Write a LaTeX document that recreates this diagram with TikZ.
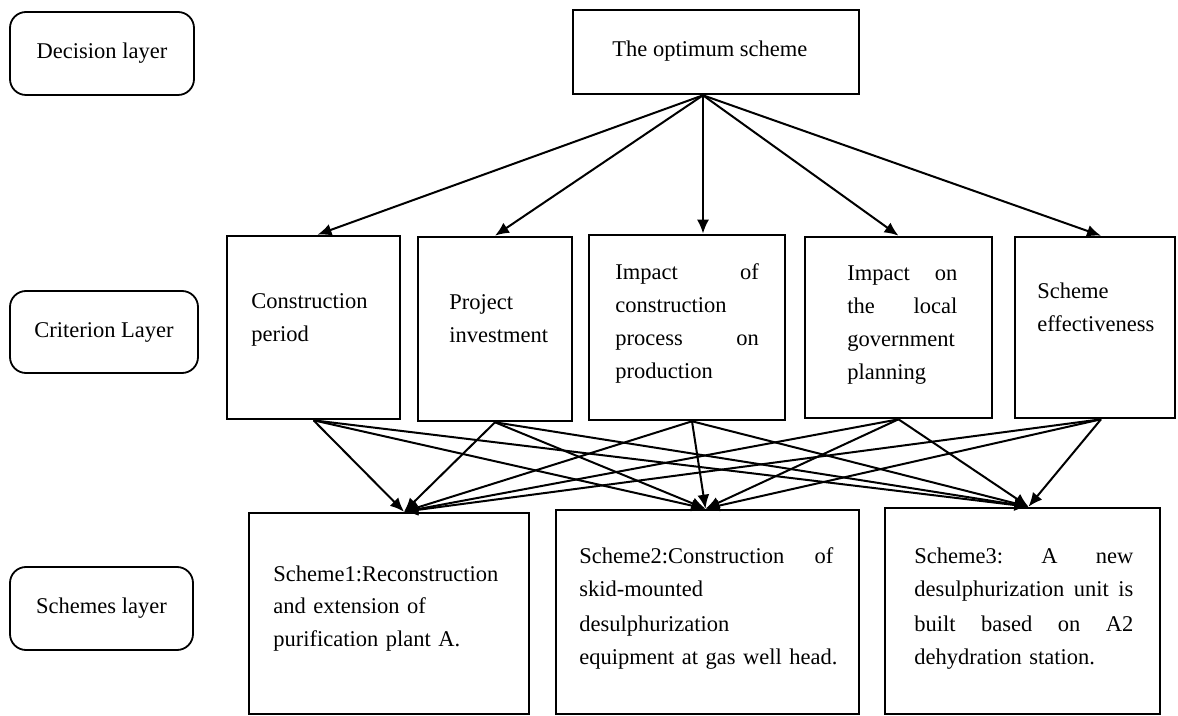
\documentclass[tikz,border=0pt]{standalone}
\usepackage{fontspec}
\setmainfont{Liberation Serif}
\usetikzlibrary{arrows.meta,calc}
\begin{document}
\begin{tikzpicture}[x=0.5pt,y=-0.5pt,
  every node/.style={font=\fontsize{11.25}{16.5}\selectfont},
  box/.style={draw,line width=1.3pt,inner sep=0pt},
  layerbox/.style={draw,line width=0.9pt,rounded corners=8pt,inner sep=0pt,align=center},
  txt/.style={anchor=base west,inner sep=0pt,align=left},
  arr/.style={line width=1pt,-{Latex[length=7pt,width=6pt]}}
]
\useasboundingbox (0,0) rectangle (1178,716);

% layer labels
\node[layerbox,minimum width=92pt,minimum height=41.5pt] (l1) at (102,53.5) {\raisebox{-1pt}{Decision layer}};
\node[layerbox,minimum width=94pt,minimum height=41pt] (l2) at (104,332) {\raisebox{-1pt}{Criterion Layer}};
\node[layerbox,minimum width=91.5pt,minimum height=41.5pt] (l3) at (101.5,608.5) {\raisebox{-1pt}{Schemes layer}};

% boxes
\node[box,minimum width=143pt,minimum height=42pt] (top) at (716,52) {};
\node[box,minimum width=86.5pt,minimum height=91.5pt] (c1) at (313.5,327.5) {};
\node[box,minimum width=77pt,minimum height=92pt] (c2) at (495,329) {};
\node[box,minimum width=98pt,minimum height=92.5pt] (c3) at (687,327.5) {};
\node[box,minimum width=93.5pt,minimum height=90.5pt] (c4) at (898.5,327.5) {};
\node[box,minimum width=80pt,minimum height=90.5pt] (c5) at (1095,327.5) {};
\node[box,minimum width=140pt,minimum height=100.5pt] (s1) at (389,613.5) {};
\node[box,minimum width=151.5pt,minimum height=102pt] (s2) at (707.5,612) {};
\node[box,minimum width=137.5pt,minimum height=103pt] (s3) at (1022.5,611) {};

% texts
\node[txt] (ttop) at (612,57) {The optimum scheme};
\node[txt,text width=70pt] (tc1) at (251,309) {Construction\\period};
\node[txt,text width=62pt] (tc2) at (449,310) {Project\\investment};
\node[txt,text width=71.75pt] (tc3) at (615,280) {Impact\hfill of\\construction\\process\hfill on\\production};
\node[txt,text width=55pt] (tc4) at (847,281) {Impact\hfill on\\the\hfill local\\government\\planning};
\node[txt,text width=64pt] (tc5) at (1037,299) {Scheme\\effectiveness};
\node[txt,text width=118pt,font=\fontsize{11.25}{16.25}\selectfont] (ts1) at (273,581) {Scheme1:Reconstruction\\and extension of\\purification plant A.};
\node[txt,text width=127pt,font=\fontsize{11.25}{17}\selectfont] (ts2) at (579,563) {Scheme2:Construction\hfill of\\skid-mounted\\desulphurization\\\mbox{equipment at gas well head.}};
\node[txt,text width=109.5pt,font=\fontsize{11.25}{17}\selectfont] (ts3) at (914,563) {Scheme3:\hfill A\hfill new\\desulphurization\hfill unit\hfill is\\built\hfill based\hfill on\hfill A2\\dehydration station.};

% connector points
\coordinate (tops) at ([xshift=-6.5pt]top.south);
\coordinate (c1t) at ([xshift=2pt]c1.north);
\coordinate (c3t) at ([xshift=8pt]c3.north);
\coordinate (c5t) at ([xshift=3pt]c5.north);
\coordinate (c3b) at ([xshift=2.5pt]c3.south);
\coordinate (c5b) at ([xshift=3pt]c5.south);
\coordinate (s1t) at ([xshift=7.5pt]s1.north);
\coordinate (s2t) at ([xshift=-1pt]s2.north);
\coordinate (s3t) at ([xshift=3pt]s3.north);

% top arrows
\draw[arr] (tops) -- (c1t);
\draw[arr] (tops) -- (c2.north);
\draw[arr] (tops) -- (c3t);
\draw[arr] (tops) -- (c4.north);
\draw[arr] (tops) -- (c5t);

% bottom arrows
\foreach \src in {c1.south,c2.south,c3b,c4.south,c5b}{
  \foreach \dst in {s1t,s2t,s3t}{
    \draw[arr] (\src) -- (\dst);
  }
}
\end{tikzpicture}
\end{document}
